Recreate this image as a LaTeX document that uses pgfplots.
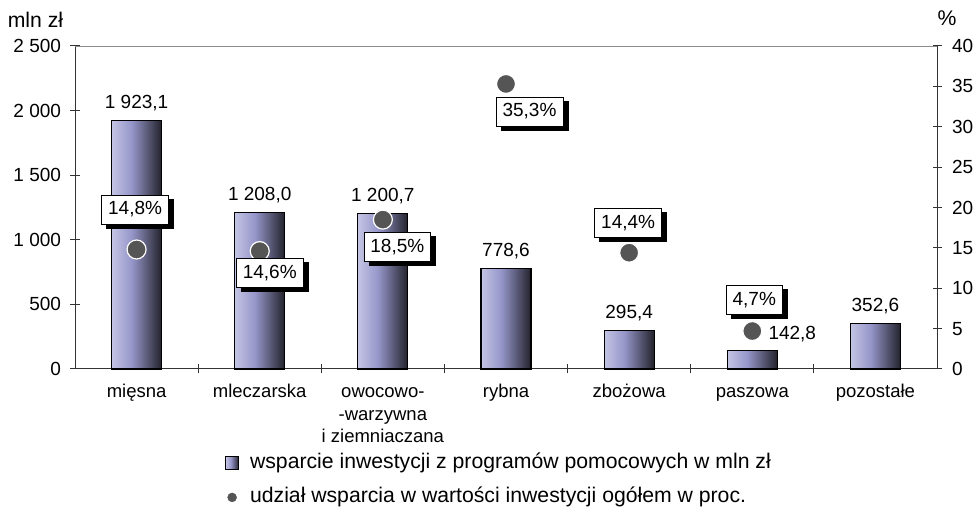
\documentclass[border=0pt]{standalone}
\usepackage{pgfplots}
\pgfplotsset{compat=1.18}
\usepackage{pgfplotstable}
\usepackage{fontspec}
\setmainfont{Liberation Sans}
\usetikzlibrary{shadows}
\definecolor{barL}{HTML}{C4C4E4}
\definecolor{barM}{HTML}{9696CA}
\definecolor{barR}{HTML}{22222C}
\definecolor{mk}{HTML}{555555}
\definecolor{axc}{HTML}{333333}
\pgfdeclarehorizontalshading{barshade}{100bp}{color(0bp)=(barL); color(25bp)=(barL); color(45bp)=(barM); color(75bp)=(barR); color(100bp)=(barR)}
\newcommand\f{\fontsize{19bp}{20.5bp}\selectfont}
\newcommand\fc{\fontsize{18.5bp}{22.5bp}\selectfont}
\newcommand\fl{\fontsize{21.2bp}{22bp}\selectfont}

\pgfplotstableread[col sep=semicolon]{
x;y;lab;dx;dy
0;14.8;14,8\%;-1.5;40
1;14.6;14,6\%;10;-22
2;18.5;18,5\%;14.5;-27.5
3;35.3;35,3\%;23.5;-27.5
4;14.4;14,4\%;-1;30
5;4.7;4,7\%;2;31
}\pct

\pgfplotsset{
  mybar/.style={ybar, bar shift=0pt, bar width=50bp, draw=black, line width=1.1bp,
    shading=barshade, shade,
    point meta=explicit symbolic, nodes near coords,
    nodes near coords style={font=\f, anchor=base, inner sep=0pt, yshift=12bp, text=black}},
}

\begin{document}
\begin{tikzpicture}[x=1bp,y=1bp]
\path[use as bounding box] (0,0) rectangle (978,508);
\node[font=\fl] at (35.5,488) {mln zł};
\node[font=\fl] at (947,490) {\%};
\begin{axis}[
  at={(75bp,139bp)}, anchor=south west,
  scale only axis, width=862bp, height=323bp,
  xmin=-0.5, xmax=6.5, ymin=0, ymax=2500,
  clip=false,
  axis y line*=left, axis x line*=bottom,
  axis line style={axc, line width=1bp},
  every tick/.style={axc, line width=1bp},
  tick align=center, major tick length=9bp,
  xtick={0.5,1.5,...,5.5}, xticklabels={},
  extra x ticks={0,1,2,3,4,5,6},
  extra x tick labels={\strut mięsna,\strut mleczarska,{\strut owocowo-\\-warzywna\\i ziemniaczana},\strut rybna,\strut zbożowa,\strut paszowa,\strut pozostałe},
  extra x tick style={major tick length=0pt, xticklabel style={align=center, anchor=north, font=\fc, inner sep=0pt, yshift=-13bp}},
  ytick={0,500,...,2500},
  yticklabels={0,500,1 000,1 500,2 000,2 500},
  yticklabel style={font=\f, xshift=-6bp},
  /pgf/number format/assume math mode=true,
  legend style={at={(0.174,-0.345)}, anchor=west, draw=none, fill=none, font=\fl,
    inner sep=0pt, row sep=10.5bp,
    nodes={inner ysep=2bp, inner xsep=6bp, text height=15bp, text depth=4.5bp},
    /tikz/every odd column/.append style={column sep=5bp}},
  legend cell align=left,
]
\draw[gray!90] (rel axis cs:0,1) -- (rel axis cs:1,1);
\addplot[mybar, legend image code/.code={\draw[shading=barshade, shade, draw=black, line width=0.9bp] (0bp,-6.5bp) rectangle (13bp,6.5bp);}]
  table[col sep=semicolon, row sep=\\, meta=lab] {x;y;lab\\0;1923.1;1 923,1\\};
\addlegendentry{wsparcie inwestycji z programów pomocowych w mln zł}
\addplot[mybar, forget plot] table[col sep=semicolon, row sep=\\, meta=lab] {x;y;lab\\1;1208.0;1 208,0\\};
\addplot[mybar, forget plot] table[col sep=semicolon, row sep=\\, meta=lab] {x;y;lab\\2;1200.7;1 200,7\\};
\addplot[mybar, forget plot] table[col sep=semicolon, row sep=\\, meta=lab] {x;y;lab\\3;778.6;778,6\\};
\addplot[mybar, forget plot] table[col sep=semicolon, row sep=\\, meta=lab] {x;y;lab\\4;295.4;295,4\\};
\addplot[mybar, forget plot, nodes near coords style={xshift=40bp, yshift=-1bp}] table[col sep=semicolon, row sep=\\, meta=lab] {x;y;lab\\5;142.8;142,8\\};
\addplot[mybar, forget plot] table[col sep=semicolon, row sep=\\, meta=lab] {x;y;lab\\6;352.6;352,6\\};
\addlegendimage{legend image code/.code={\fill[mk] (6.5bp,0bp) circle (4.5bp);}}
\addlegendentry{udział wsparcia w wartości inwestycji ogółem w proc.}
\end{axis}
\begin{axis}[
  at={(75bp,139bp)}, anchor=south west,
  scale only axis, width=862bp, height=323bp,
  xmin=-0.5, xmax=6.5, ymin=0, ymax=40,
  clip=false,
  axis y line*=right, axis x line=none,
  axis line style={axc, line width=1bp},
  every tick/.style={axc, line width=1bp},
  tick align=center, major tick length=9bp,
  ytick={0,5,...,40},
  yticklabel style={font=\f, xshift=7bp},
  /pgf/number format/assume math mode=true,
]
\addplot[only marks, mark=*, mark size=9.5bp,
  mark options={fill=mk, draw=white, line width=1.2bp},
  point meta=explicit symbolic,
  visualization depends on={\thisrow{dx} \as \dx},
  visualization depends on={\thisrow{dy} \as \dy},
  nodes near coords,
  nodes near coords style={font=\f, anchor=center, draw=black, fill=white, line width=0.8bp,
    inner xsep=6.5bp, minimum height=29bp, text=black,
    drop shadow={shadow xshift=5bp, shadow yshift=-4bp, fill=black, opacity=1},
    xshift=\dx bp, yshift=\dy bp}
] table[x=x, y=y, meta=lab] {\pct};
\end{axis}
\end{tikzpicture}
\end{document}
